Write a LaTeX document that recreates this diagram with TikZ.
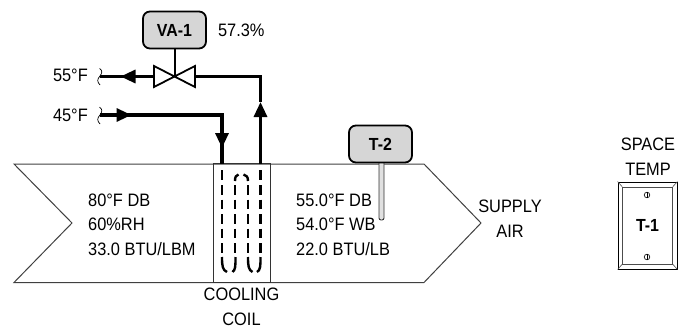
\documentclass[tikz,border=0pt]{standalone}
\usepackage{fontspec}
\setmainfont[FakeStretch=0.91]{Liberation Sans}
\usetikzlibrary{positioning, arrows.meta, shapes}

\begin{document}
\begin{tikzpicture}
            [x=1pt, y=-1pt,
             label/.style={inner sep=0pt, align=left, font=\fontsize{18}{24.6}\selectfont},
             centered/.style={label, align=center},
             tag/.style={draw=black, line width=1.8pt, rounded corners=7pt, fill=black!16,
                         minimum width=63pt, minimum height=37pt, inner sep=0pt,
                         font=\fontsize{17.5}{20}\bfseries\selectfont},
             pipe/.style={line width=3.2pt},
             flow/.style={pipe, -{Triangle[length=15pt, width=13pt]}},
             wall/.style={draw=black!75, line width=1pt},
             brk/.style={line width=0.7pt},
             pass/.style={line width=2.4pt},
             valve/.style={draw=black, line width=1.8pt, line join=miter, fill=white}]
            \useasboundingbox (0,0) rectangle (678,329);

            % duct
            \draw[wall] (14,164) -- (424,164) -- (481,223) -- (424,282.5) -- (14,282.5) -- (72,223) -- cycle;
            \node[draw=black!80, line width=1pt, minimum width=57pt, minimum height=118.5pt, inner sep=0pt] (coil) at (241.5,223.2) {};

            \node[label, anchor=west] (entering) at (88,224.5) {80°F DB\\60\%RH\\33.0 BTU/LBM};
            \node[label, anchor=west] (leaving) at (296,224.5) {55.0°F DB\\54.0°F WB\\22.0 BTU/LB};
            \node[centered] (coillabel) at (241.5,307) {COOLING\\COIL};
            \node[centered] (supply) at (510,218.5) {SUPPLY\\AIR};

            % coil passes
            \coordinate (inlet) at (222,164);
            \coordinate (outlet) at (260.5,164);
            \foreach \cx in {222,235,248,260.5}
                \draw[pass, dash pattern=on 9.5pt off 5pt] (\cx,185) -- (\cx,252.5);
            \draw[pass] (222,170) -- (222,180);
            \draw[pass] (260.5,170) -- (260.5,180);
            \draw[pass] (235,181) .. controls (235,177) and (236,175) .. (238.5,174.5);
            \draw[pass] (243.5,174.5) .. controls (246.5,175) and (248,177) .. (248,181);
            \draw[pass] (222,257) .. controls (222,266) and (222.5,270) .. (227,272);
            \draw[pass] (235.5,257) .. controls (235.5,266) and (235.5,270) .. (232.5,272);
            \draw[pass] (248,257) .. controls (248,266) and (248.5,270) .. (252.5,272);
            \draw[pass] (260.5,257) .. controls (260.5,266) and (260.5,270) .. (257,272);

            % chilled water
            \coordinate (brk55) at (100,76.5);
            \coordinate (brk45) at (100,115);
            \coordinate (tip55) at (120.5,76.5);
            \coordinate (tip45) at (131.5,115);
            \coordinate (corner45) at (222,115);
            \coordinate (tipdown) at (222,148);
            \coordinate (corner55) at (260.5,76.5);
            \coordinate (tipup) at (260.5,102);
            \coordinate (valvec) at (174.5,76.5);

            \draw[valve] (154,66) -- (154,87) -- (valvec) -- cycle;
            \draw[valve] (195,66) -- (195,87) -- (valvec) -- cycle;

            \draw[pipe] (brk55) -- (154,76.5);
            \path[flow] (140,76.5) edge (tip55);
            \draw[pipe] (brk45) -- (tip45);
            \path[flow] (brk45) edge (tip45);
            \draw[pipe, line join=miter] (tip45) -- (corner45) -- (inlet);
            \path[flow] (corner45) edge (tipdown);
            \path[flow] (outlet) edge (tipup);
            \draw[pipe, line join=miter] (tipup) -- (corner55) -- (195,76.5);

            \draw[brk] (99.5,68.5) .. controls (103,71) and (102,73) .. (100,76) .. controls (97,79) and (97,82) .. (100,85);
            \draw[brk] (99.5,107) .. controls (103,109.5) and (102,112) .. (100,115) .. controls (97,118) and (97,121) .. (100,124);

            \node[label, anchor=east] (t55) at (88,75) {55°F};
            \node[label, anchor=east] (t45) at (88,115.5) {45°F};

            % valve actuator
            \node[tag] (VA1) at (174.5,30) {VA-1};
            \node[label, anchor=west, right=11pt of VA1] (pct) {57.3\%};
            \draw[line width=2pt] (VA1) -- (valvec);

            % discharge sensor
            \draw[draw=black!80, fill=black!12, line width=0.9pt, rounded corners=2pt] (379,160) -- (379,220) -- (384,220) -- (384,160) -- cycle;
            \node[tag] (T2) at (380.5,144) {T-2};

            % wall sensor
            \node[centered] (space) at (648,156.5) {SPACE\\TEMP};
            \node[draw=black, line width=0.9pt, minimum width=59pt, minimum height=87pt, inner sep=0pt,
                  font=\fontsize{17.5}{20}\bfseries\selectfont] (T1) at (647.5,225.5) {T-1};
            \node[draw=black!70, line width=0.7pt, minimum width=50pt, minimum height=77pt, inner sep=0pt] (plate) at (647.5,225.5) {};
            \draw[black!70, line width=0.6pt] (T1.north west) -- (plate.north west);
            \draw[black!70, line width=0.6pt] (T1.north east) -- (plate.north east);
            \draw[black!70, line width=0.6pt] (T1.south west) -- (plate.south west);
            \draw[black!70, line width=0.6pt] (T1.south east) -- (plate.south east);
            \foreach \sy in {195,257} {
                \draw[line width=0.6pt] (647,\sy) circle[radius=2.8pt];
                \draw[line width=0.6pt] (647,\sy-2.8) -- (647,\sy+2.8);
            }
        \end{tikzpicture}
\end{document}
